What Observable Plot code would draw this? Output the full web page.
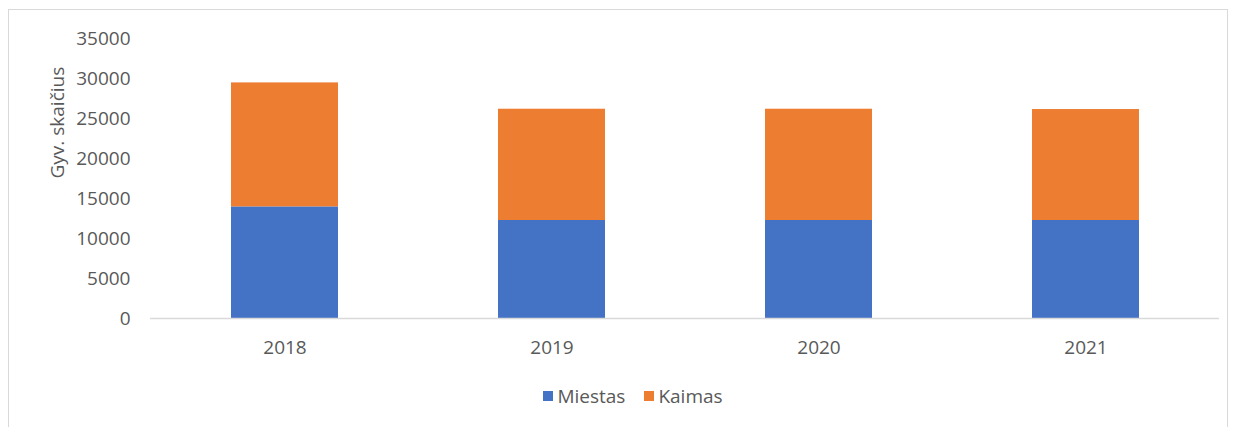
<!DOCTYPE html>
<html>
<head>
<meta charset="utf-8">
<script src="https://cdn.jsdelivr.net/npm/d3@7"></script>
<script src="https://cdn.jsdelivr.net/npm/@observablehq/plot@0.6"></script>
<style>
  html, body { margin: 0; padding: 0; background: #fff; width: 1236px; height: 427px; overflow: hidden; }
  #frame { position: absolute; left: 8px; top: 9px; width: 1220px; height: 430px; border: 1px solid #d9d9d9; box-sizing: border-box; }
  #chart { position: absolute; left: 0; top: 0; }
  #legend { position: absolute; left: 0; top: 383px; width: 1266px; display: flex; justify-content: center; gap: 19px;
            font-family: "Open Sans", sans-serif; font-size: 19px; color: #595959; }
  .item { display: flex; align-items: center; gap: 4px; }
  .sw { width: 10px; height: 10px; display: inline-block; }
</style>
</head>
<body>
<div id="frame"></div>
<div id="chart"></div>
<div id="legend"></div>
<script>
const years = ["2018", "2019", "2020", "2021"];
const seriesNames = ["Miestas", "Kaimas"];
const miestas = [13950, 12250, 12250, 12250];
const kaimas = [15500, 13910, 13910, 13870];
const colors = ["#4472C4", "#ED7D31"];
const yTicks = [0, 5000, 10000, 15000, 20000, 25000, 30000, 35000];
const yLabel = "Gyv. skaičius";

const rows = [];
years.forEach((y, i) => {
  rows.push({year: y, series: seriesNames[0], value: miestas[i]});
  rows.push({year: y, series: seriesNames[1], value: kaimas[i]});
});

const chart = Plot.plot({
  width: 1236,
  height: 372,
  marginLeft: 150,
  marginRight: 17,
  marginTop: 38,
  marginBottom: 54,
  style: {fontFamily: "Open Sans, sans-serif", fontSize: "19px", color: "#595959", background: "transparent"},
  x: {domain: years, paddingInner: 0.6, paddingOuter: 0.3, label: null},
  y: {domain: [0, 35000], label: null},
  color: {domain: seriesNames, range: colors},
  marks: [
    Plot.barY(rows, {x: "year", y: "value", fill: "series", order: seriesNames}),
    Plot.ruleY([0], {stroke: "#d9d9d9", strokeWidth: 1.5}),
    Plot.axisX({tickSize: 0, tickPadding: 22, label: null, fontSize: 19}),
    Plot.axisY({ticks: yTicks, tickSize: 0, tickPadding: 20, tickFormat: d => String(d), label: null, fontSize: 19}),
    Plot.text([yLabel], {frameAnchor: "left", dx: -93, rotate: -90, fontSize: 19, fill: "#595959"})
  ]
});
document.getElementById("chart").appendChild(chart);

const legend = document.getElementById("legend");
seriesNames.forEach((name, i) => {
  const item = document.createElement("div");
  item.className = "item";
  const sw = document.createElement("span");
  sw.className = "sw";
  sw.style.background = colors[i];
  const t = document.createElement("span");
  t.textContent = name;
  item.appendChild(sw);
  item.appendChild(t);
  legend.appendChild(item);
});
</script>
</body>
</html>
